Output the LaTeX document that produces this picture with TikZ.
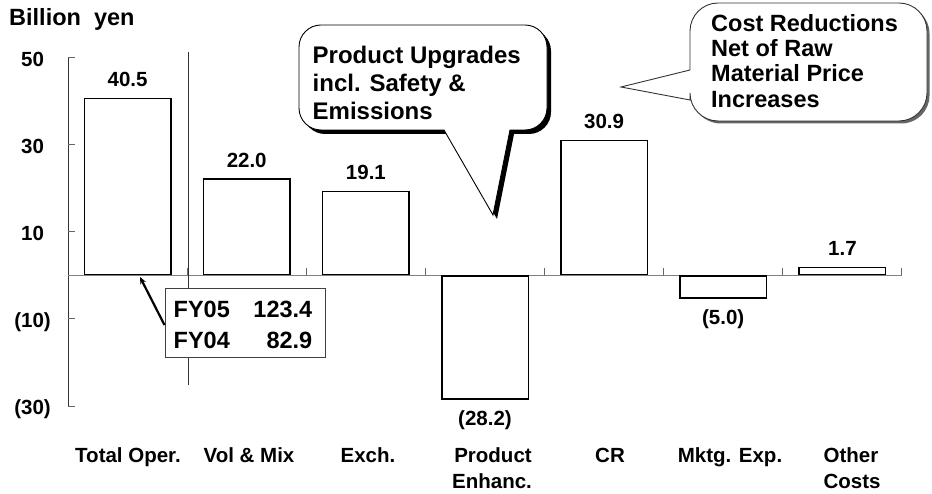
\documentclass[tikz,border=0pt]{standalone}
\usepackage{fontspec}
\setmainfont{Liberation Sans}
\usetikzlibrary{arrows.meta}

\begin{document}
\begin{tikzpicture}[x=1bp,y=-1bp,
  lbl/.style={font=\bfseries\fontsize{20.5bp}{24bp}\selectfont, inner sep=0pt},
  big/.style={font=\bfseries\fontsize{23.5bp}{28bp}\selectfont, inner sep=0pt},
  bigger/.style={font=\bfseries\fontsize{24bp}{28bp}\selectfont, inner sep=0pt},
  barbox/.style={draw=black, line width=1.5bp, fill=white, inner sep=0pt, minimum width=86.5bp},
  axisline/.style={draw=black!80, line width=1bp},
  zeroline/.style={draw=black!50, line width=1bp},
  tickline/.style={draw=black!60, line width=1bp},
  sepline/.style={draw=black!80, line width=1bp},
  fybox/.style={draw=black!75, line width=0.9bp, fill=white, inner sep=0pt},
  ptr/.style={draw=black, line width=2.2bp, -{Stealth[length=7bp,width=6bp]}},
]
\useasboundingbox (0,0) rectangle (932,494);

% unit title
\node[big, anchor=base west] (unit) at (9,26) {Billion\ \ yen};

% value axis with ticks and labels
\draw[axisline] (68,58) -- (68,406);
\foreach \t in {58,145,232,319,406} \draw[tickline] (68,\t) -- (75,\t);
\node[lbl, anchor=base east] (y50) at (51,66.5)  {50\phantom{)}};
\node[lbl, anchor=base east] (y30) at (51,153.5) {30\phantom{)}};
\node[lbl, anchor=base east] (y10) at (51,240.5) {10\phantom{)}};
\node[lbl, anchor=base east] (ym10) at (51,327.5) {(10)};
\node[lbl, anchor=base east] (ym30) at (51,414.5) {(30)};

% zero line with category ticks
\draw[zeroline] (68,275.5) -- (902,275.5);
\foreach \i in {1,...,7} \draw[tickline] ({68+119.14*\i},275.5) -- ++(0,-7);

% separator after the total
\draw[sepline] (188,52) -- (188,385);

% bars (4.35 bp per billion yen)
\node[barbox, anchor=south, minimum height=176.2bp] (b1) at (127.6,275.5) {};
\node[barbox, anchor=south, minimum height=95.7bp]  (b2) at (246.7,275.5) {};
\node[barbox, anchor=south, minimum height=83.1bp]  (b3) at (365.9,275.5) {};
\node[barbox, anchor=north, minimum height=122.7bp] (b4) at (485.0,275.5) {};
\node[barbox, anchor=south, minimum height=134.4bp] (b5) at (604.1,275.5) {};
\node[barbox, anchor=north, minimum height=21.75bp] (b6) at (723.2,275.5) {};
\node[barbox, anchor=south, minimum height=7.4bp]   (b7) at (842.4,275.5) {};

% bar values
\node[lbl, anchor=base] (v1) at ([yshift=11bp]b1.north) {40.5};
\node[lbl, anchor=base] (v2) at ([yshift=11bp]b2.north) {22.0};
\node[lbl, anchor=base] (v3) at ([yshift=11bp]b3.north) {19.1};
\node[lbl, anchor=base] (v4) at ([yshift=-26bp]b4.south) {(28.2)};
\node[lbl, anchor=base] (v5) at ([yshift=11bp]b5.north) {30.9};
\node[lbl, anchor=base] (v6) at ([yshift=-26bp]b6.south) {(5.0)};
\node[lbl, anchor=base] (v7) at ([yshift=11bp]b7.north) {1.7};

% categories
\node[lbl, anchor=base] (c1) at (128,462) {Total Oper.};
\node[lbl, anchor=base] (c2) at (249,462) {Vol \& Mix};
\node[lbl, anchor=base] (c3) at (368,462) {Exch.};
\node[lbl, anchor=base] (c4) at (493,462) {Product};
\node[lbl, anchor=base] (c4b) at (492,488) {Enhanc.};
\node[lbl, anchor=base] (c5) at (610,462) {CR};
\node[lbl, anchor=base] (c6) at (730,462) {Mktg. Exp.};
\node[lbl, anchor=base] (c7) at (851,462) {Other};
\node[lbl, anchor=base] (c7b) at (852,488) {Costs};

% operating income box
\node[fybox, minimum width=160.7bp, minimum height=69bp] (fy) at (245.3,322.8) {};
\node[big, anchor=base west] (fy5) at (173.5,317.7) {FY05};
\node[big, anchor=base east] (fy5v) at (312.5,317.7) {123.4};
\node[big, anchor=base west] (fy4) at (173.5,348.3) {FY04};
\node[big, anchor=base east] (fy4v) at (312.5,348.3) {82.9};
\coordinate (b1foot) at ([xshift=12.4bp,yshift=-1.5bp]b1.south);
\draw[ptr] ([yshift=-2.2bp]fy.west) -- (b1foot);

% callout: product upgrades
\fill[black, shift={(4,4)}] (444,130) -- (321,130) .. controls (308.9,130) and (299,120.1) .. (299,108)
  -- (299,47) .. controls (299,34.9) and (308.9,25) .. (321,25) -- (525,25)
  .. controls (537.1,25) and (547,34.9) .. (547,47) -- (547,108)
  .. controls (547,120.1) and (537.1,130) .. (525,130) -- (510,130) -- (493,215) -- cycle;
\filldraw[fill=white, draw=black, line width=0.9bp] (444,130) -- (321,130) .. controls (308.9,130) and (299,120.1) .. (299,108)
  -- (299,47) .. controls (299,34.9) and (308.9,25) .. (321,25) -- (525,25)
  .. controls (537.1,25) and (547,34.9) .. (547,47) -- (547,108)
  .. controls (547,120.1) and (537.1,130) .. (525,130) -- (510,130) -- (493,215) -- cycle;
\node[bigger, anchor=base west] (pu1) at (312.5,63.3) {Product Upgrades};
\node[bigger, anchor=base west] (pu2) at (312.5,91.7) {incl. Safety \&};
\node[bigger, anchor=base west] (pu3) at (312.5,120) {Emissions};

% callout: cost reductions (shadow under the rounded body only)
\fill[black!60, shift={(2.5,2.5)}, rounded corners=28bp] (690,3) rectangle (927,121);
\filldraw[fill=white, draw=black!80, line width=0.9bp] (690,70) -- (690,31) .. controls (690,15.6) and (702.6,3) .. (718,3)
  -- (899,3) .. controls (914.4,3) and (927,15.6) .. (927,31) -- (927,93)
  .. controls (927,108.4) and (914.4,121) .. (899,121) -- (718,121)
  .. controls (702.6,121) and (690,108.4) .. (690,93) -- (690,100) -- (621,87) -- cycle;
\node[big, anchor=base west] (cr1) at (711,31.7) {Cost Reductions};
\node[big, anchor=base west] (cr2) at (711,56.5) {Net of Raw};
\node[big, anchor=base west] (cr3) at (711,81.5) {Material Price};
\node[big, anchor=base west] (cr4) at (711,108) {Increases};
\end{tikzpicture}
\end{document}
